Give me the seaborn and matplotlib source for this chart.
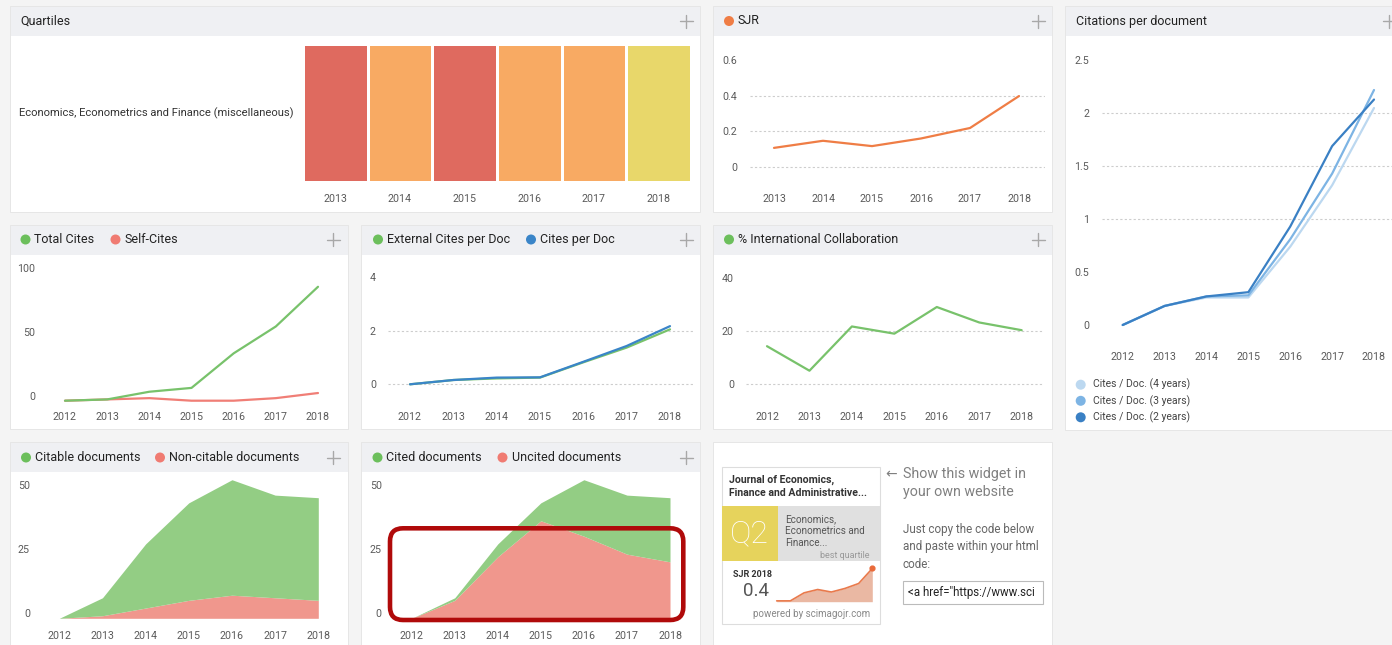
import numpy as np
import pandas as pd
import seaborn as sns
import matplotlib.pyplot as plt
import matplotlib.transforms as mtransforms
from matplotlib.colors import ListedColormap
from matplotlib.patches import Rectangle, Circle, FancyBboxPatch

sns.set_theme(style="white")
plt.rcParams['font.family'] = ['Roboto', 'DejaVu Sans']

# ---- data ----
quartile_years = ['2013', '2014', '2015', '2016', '2017', '2018']
quartile_category = 'Economics, Econometrics and Finance (miscellaneous)'
quartile_values = [4, 3, 4, 3, 3, 2]   # Q4, Q3, Q4, Q3, Q3, Q2

sjr_years = [2013, 2014, 2015, 2016, 2017, 2018]
sjr_values = [0.106, 0.146, 0.116, 0.159, 0.218, 0.398]

years = [2012, 2013, 2014, 2015, 2016, 2017, 2018]
cites_doc_4y = [0.0, 0.18, 0.26, 0.26, 0.74, 1.32, 2.05]
cites_doc_3y = [0.0, 0.18, 0.27, 0.28, 0.81, 1.43, 2.22]
cites_doc_2y = [0.0, 0.18, 0.27, 0.31, 0.93, 1.69, 2.13]

total_cites = [0, 1, 7, 10, 37, 58, 89]
self_cites = [0, 1, 2, 0, 0, 2, 6]

external_cites_per_doc = [0.0, 0.16, 0.22, 0.25, 0.82, 1.37, 2.05]
cites_per_doc = [0.0, 0.16, 0.25, 0.26, 0.84, 1.43, 2.17]

intl_collab = [14.3, 5.1, 21.7, 19.0, 29.0, 23.2, 20.3]

citable_docs = [0, 7, 25, 38, 45, 40, 40]
non_citable_docs = [0, 1, 4, 7, 9, 8, 7]
cited_docs = [0, 1, 5, 7, 22, 23, 25]
uncited_docs = [0, 7, 24, 38, 32, 25, 22]

widget_spark = [0.01, 0.01, 0.106, 0.146, 0.116, 0.159, 0.218, 0.398]

# colours
GREEN, RED, BLUE, ORANGE = '#78c26b', '#f07e76', '#3a85c8', '#ef7d45'
GREEN_DOT, RED_DOT = '#6cbf5c', '#f07b72'
GREEN_FILL, RED_FILL = '#93cd84', '#f0978d'
Q_COLORS = ['#a4cf63', '#e8d76a', '#f8aa63', '#df6a5f']
TICK_C = '#5a5a5a'

W, H = 1392, 645
fig = plt.figure(figsize=(W / 100, H / 100), dpi=100)
fig.patch.set_facecolor('#f4f4f4')

bg = fig.add_axes([0, 0, 1, 1], zorder=-5)
bg.set_xlim(0, W)
bg.set_ylim(H, 0)
bg.axis('off')


def panel(x0, y0, x1, y1, head=True):
    bg.add_patch(Rectangle((x0, y0), x1 - x0, y1 - y0, facecolor='white',
                           edgecolor='#e3e3e3', lw=0.6))
    if head:
        bg.add_patch(Rectangle((x0 + 0.5, y0 + 0.5), x1 - x0 - 1, 29,
                               facecolor='#eff0f3', edgecolor='none'))


def header(y, items, plus_x):
    for color, label, x in items:
        if color is not None:
            bg.add_patch(Circle((x, y), 5, color=color, lw=0))
            x = x + 9
        bg.text(x, y, label, fontsize=9, color='#222222', va='center')
    bg.plot([plus_x - 6.5, plus_x + 6.5], [y, y], color='#a8a8a8', lw=1)
    bg.plot([plus_x, plus_x], [y - 6.5, y + 6.5], color='#a8a8a8', lw=1)


def make_axes(box):
    x0, y0, x1, y1 = box
    ax = fig.add_axes([x0 / W, 1 - y1 / H, (x1 - x0) / W, (y1 - y0) / H])
    ax.set_facecolor('none')
    return ax


def frame(ax, box, xmap, ymap, xticks, yticks, ylabels, grid, xlab_y,
          ylab_right, lab_shift=0):
    x0, y0, x1, y1 = box
    ax.set_xticks(xticks)
    ax.set_xticklabels([str(v) for v in xticks])
    ax.set_yticks(yticks)
    ax.set_yticklabels(ylabels)
    (pa, da), (pb, db) = xmap
    s = (db - da) / (pb - pa)
    ax.set_xlim(da + (x0 - pa) * s, da + (x1 - pa) * s)
    (qa, va), (qb, vb) = ymap
    t = (vb - va) / (qb - qa)
    ax.set_ylim(va + (y1 - qa) * t, va + (y0 - qa) * t)
    for sp in ax.spines.values():
        sp.set_visible(False)
    ax.tick_params(axis='x', length=0, labelsize=7.7, labelcolor=TICK_C,
                   pad=(xlab_y - y1 - 3.5) * 0.72)
    ax.tick_params(axis='y', length=0, labelsize=7.7, labelcolor=TICK_C,
                   pad=(x0 - ylab_right) * 0.72)
    ax.set_xlabel('')
    ax.set_ylabel('')
    for g in grid:
        ax.axhline(g, color='#cdcdcd', lw=0.8, ls=(0, (2, 2)), zorder=0)
    if lab_shift:
        off = mtransforms.ScaledTranslation(0, lab_shift / 100, fig.dpi_scale_trans)
        for lab in ax.get_yticklabels():
            lab.set_transform(lab.get_transform() + off)


# ---- panels ----
panel(10, 6, 700, 212)
panel(713, 6, 1052, 212)
panel(1065, 6, 1400, 430)
panel(10, 225, 348, 429)
panel(361, 225, 700, 429)
panel(713, 225, 1052, 429)
panel(10, 442, 348, 660)
panel(361, 442, 700, 660)
panel(713, 442, 1052, 660, head=False)

header(21, [(None, 'Quartiles', 20)], 686)
header(21, [(ORANGE, 'SJR', 729)], 1038)
header(21, [(None, 'Citations per document', 1076)], 1389)
header(239.5, [(GREEN_DOT, 'Total Cites', 25.5), (RED_DOT, 'Self-Cites', 115.5)], 333)
header(239.5, [(GREEN_DOT, 'External Cites per Doc', 378), (BLUE, 'Cites per Doc', 531)], 686)
header(239.5, [(GREEN_DOT, '% International Collaboration', 729)], 1038)
header(457.5, [(GREEN_DOT, 'Citable documents', 26), (RED_DOT, 'Non-citable documents', 160)], 333)
header(457.5, [(GREEN_DOT, 'Cited documents', 377.5), (RED_DOT, 'Uncited documents', 502.5)], 686)

# ---- quartiles heatmap ----
qbox = (303, 44, 691, 182)
axq = make_axes(qbox)
qdf = pd.DataFrame([quartile_values], index=[quartile_category], columns=quartile_years)
sns.heatmap(qdf, ax=axq, cmap=ListedColormap(Q_COLORS), vmin=0.5, vmax=4.5,
            cbar=False, linewidths=0.8, linecolor='white')
axq.tick_params(axis='x', length=0, labelsize=7.7, labelcolor=TICK_C, pad=9, rotation=0)
axq.tick_params(axis='y', length=0, labelsize=8.1, labelcolor='#333333', pad=6.5, rotation=0)
axq.set_xlabel('')
axq.set_ylabel('')

# ---- SJR ----
box = (750, 50, 1045, 186)
ax = make_axes(box)
sns.lineplot(x=sjr_years, y=sjr_values, ax=ax, color=ORANGE, lw=1.6)
frame(ax, box, ((774, 2013), (1019, 2018)), ((166.7, 0), (95.7, 0.4)), sjr_years,
      [0, 0.2, 0.4, 0.6], ['0', '0.2', '0.4', '0.6'], [0, 0.2, 0.4], 198, 737)

# ---- Citations per document ----
box = (1102, 50, 1392, 343)
ax = make_axes(box)
sns.lineplot(x=years, y=cites_doc_4y, ax=ax, color='#bcd8f0', lw=1.6)
sns.lineplot(x=years, y=cites_doc_3y, ax=ax, color='#7db4e4', lw=1.6)
sns.lineplot(x=years, y=cites_doc_2y, ax=ax, color='#3a80c4', lw=1.6)
frame(ax, box, ((1122.7, 2012), (1374, 2018)), ((325, 0), (113.3, 2)), years,
      [0, 0.5, 1, 1.5, 2, 2.5], ['0', '0.5', '1', '1.5', '2', '2.5'],
      [1, 1.5, 2], 355, 1089)
for yy, c, lab in [(384.7, '#bcd8f0', 'Cites / Doc. (4 years)'),
                   (400.8, '#7db4e4', 'Cites / Doc. (3 years)'),
                   (417.3, '#3a80c4', 'Cites / Doc. (2 years)')]:
    bg.add_patch(Circle((1080.7, yy), 5, color=c, lw=0))
    bg.text(1093, yy, lab, fontsize=7.5, color='#444444', va='center')

# ---- Total cites / self cites ----
box = (45, 255, 340, 404)
ax = make_axes(box)
sns.lineplot(x=years, y=self_cites, ax=ax, color=RED, lw=1.6)
sns.lineplot(x=years, y=total_cites, ax=ax, color=GREEN, lw=1.6)
frame(ax, box, ((65, 2012), (318, 2018)), ((400.7, 0), (336.7, 50)), years,
      [0, 50, 100], ['0', '50', '100'], [], 416, 35, lab_shift=5)

# ---- External cites per doc ----
box = (388, 260, 693, 404)
ax = make_axes(box)
sns.lineplot(x=years, y=external_cites_per_doc, ax=ax, color=GREEN, lw=1.6)
sns.lineplot(x=years, y=cites_per_doc, ax=ax, color=BLUE, lw=1.6)
frame(ax, box, ((410, 2012), (670, 2018)), ((384.3, 0), (330.7, 2)), years,
      [0, 2, 4], ['0', '2', '4'], [0, 2], 416, 376)

# ---- International collaboration ----
box = (746, 260, 1044, 404)
ax = make_axes(box)
sns.lineplot(x=years, y=intl_collab, ax=ax, color=GREEN, lw=1.6)
frame(ax, box, ((767, 2012), (1021.7, 2018)), ((384.3, 0), (331, 20)), years,
      [0, 20, 40], ['0', '20', '40'], [0, 20], 416, 734)

# ---- Citable / non-citable documents (stacked areas) ----
box = (40, 470, 340, 622)
ax = make_axes(box)
ax.stackplot(years, non_citable_docs, citable_docs, colors=[RED_FILL, GREEN_FILL], lw=0)
frame(ax, box, ((59.3, 2012), (318.3, 2018)), ((618.3, 0), (490, 50)), years,
      [0, 25, 50], ['0', '25', '50'], [], 634.3, 30, lab_shift=5)

# ---- Cited / uncited documents (stacked areas) ----
box = (390, 470, 690, 622)
ax = make_axes(box)
ax.stackplot(years, uncited_docs, cited_docs, colors=[RED_FILL, GREEN_FILL], lw=0)
frame(ax, box, ((411.7, 2012), (670, 2018)), ((618.3, 0), (490, 50)), years,
      [0, 25, 50], ['0', '25', '50'], [], 634.3, 381.7, lab_shift=5)

# red highlight box drawn over the cited documents chart
fig.add_artist(FancyBboxPatch((390, 528.3), 293.3, 91.7,
                              boxstyle='round,pad=0,rounding_size=13',
                              lw=3.3, edgecolor='#b00a0a', facecolor='none',
                              transform=bg.transData, zorder=20))

# ---- widget ----
bg.add_patch(Rectangle((721.7, 466.7), 158.3, 157.6, facecolor='white',
                       edgecolor='#dddddd', lw=0.8))
bg.text(729, 480, 'Journal of Economics,', fontsize=7.6, fontweight='bold',
        color='#333333', va='center')
bg.text(729, 493.3, 'Finance and Administrative...', fontsize=7.6,
        fontweight='bold', color='#333333', va='center')
bg.add_patch(Rectangle((721.7, 505.7), 56, 55.3, facecolor='#e6d35c', lw=0))
bg.add_patch(Rectangle((777.7, 505.7), 102.3, 55.3, facecolor='#e0e0e0', lw=0))
bg.text(749.7, 534, 'Q2', fontsize=23, color='white', ha='center', va='center',
        fontweight='light')
for yy, lab in [(519, 'Economics,'), (531, 'Econometrics and'), (542.7, 'Finance...')]:
    bg.text(785, yy, lab, fontsize=7.1, color='#555555', va='center')
bg.text(870, 555, 'best quartile', fontsize=6.5, color='#999999', ha='right', va='center')
bg.text(732.7, 574.3, 'SJR 2018', fontsize=6.5, fontweight='bold', color='#333333', va='center')
bg.text(743.3, 591.5, '0.4', fontsize=13.5, color='#555555', va='center')
bg.text(811.7, 614, 'powered by scimagojr.com', fontsize=7.0, color='#888888',
        ha='center', va='center')

sbox = (774, 562, 876, 603)
axs = make_axes(sbox)
spark_x = list(range(len(widget_spark)))
axs.fill_between(spark_x, widget_spark, 0, color='#eab8a3', lw=0)
sns.lineplot(x=spark_x, y=widget_spark, ax=axs, color='#e97a4c', lw=1.2)
axs.scatter([spark_x[-1]], [widget_spark[-1]], s=12, color='#e96a3a', zorder=5)
sx = (872.3 - 776.7) / (len(widget_spark) - 1)
axs.set_xlim((774 - 776.7) / sx, (876 - 776.7) / sx)
sy = 0.4 / (601.7 - 568.3)
axs.set_ylim(-(603 - 601.7) * sy, (601.7 - 562) * sy)
axs.axis('off')

bg.text(885, 474.3, '\u2190', fontsize=10, color='#808080', va='center')
bg.text(902.7, 474.3, 'Show this widget in', fontsize=10.3, color='#808080', va='center')
bg.text(902.7, 491.7, 'your own website', fontsize=10.3, color='#808080', va='center')
for yy, lab in [(529, 'Just copy the code below'), (546.7, 'and paste within your html'),
                (564.3, 'code:')]:
    bg.text(902.7, yy, lab, fontsize=8.4, color='#666666', va='center')
bg.add_patch(Rectangle((903.3, 580.7), 139.4, 23.3, facecolor='white',
                       edgecolor='#bbbbbb', lw=0.8))
bg.text(908, 592.3, '<a href="https://www.sci', fontsize=8.3, color='#222222',
        va='center', clip_on=True)

fig.savefig('out.png', dpi=100, facecolor=fig.get_facecolor())
